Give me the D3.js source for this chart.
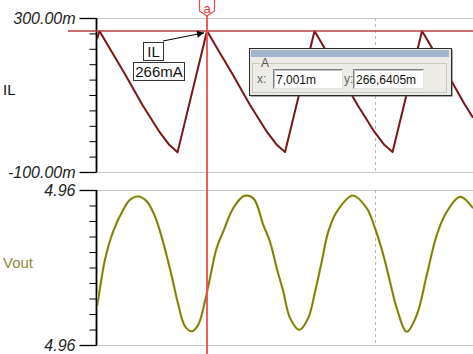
<!DOCTYPE html>
<html>
<head>
<meta charset="utf-8">
<script src="https://cdn.jsdelivr.net/npm/d3@7"></script>
<style>
  html, body { margin: 0; padding: 0; background: #fff; }
  svg { display: block; font-family: "Liberation Sans", Arial, sans-serif; }
</style>
</head>
<body>
<svg id="chart" width="473" height="354"></svg>
<script>
// ---------- data ----------
const timeDomain = [5.978, 9.475];          // ms
const ilDomain = [-100, 300];               // mA
const voutDomain = [4.956, 4.964];          // V

const ilTime  = [5.978, 6.001, 6.094, 6.243, 6.401, 6.559, 6.652, 6.727,
                 7.001, 7.094, 7.243, 7.401, 7.559, 7.652, 7.727,
                 8.001, 8.094, 8.243, 8.401, 8.559, 8.652, 8.727,
                 9.001, 9.094, 9.243, 9.401, 9.475];
const ilValue = [245, 266, 222, 152, 74, 4, -30, -49,
                 266, 222, 152, 74, 4, -30, -48,
                 266, 222, 152, 74, 4, -30, -48,
                 266, 222, 152, 74, 41];

const voutTime  = [5.978, 6.006, 6.052, 6.129, 6.222, 6.285, 6.362, 6.440, 6.517, 6.595,
                   6.673, 6.734, 6.796, 6.859, 6.920, 6.982, 7.029, 7.091, 7.153, 7.246,
                   7.345, 7.432, 7.525, 7.587, 7.649, 7.711, 7.773, 7.860, 7.943, 8.006,
                   8.068, 8.129, 8.208, 8.356, 8.487, 8.564, 8.641, 8.703, 8.766, 8.859,
                   8.952, 9.045, 9.138, 9.231, 9.355, 9.475];
const voutValue = [4.95800, 4.95894, 4.96040, 4.96187, 4.96298, 4.96350, 4.96367, 4.96342, 4.96264, 4.96127,
                   4.95955, 4.95808, 4.95697, 4.95671, 4.95705, 4.95826, 4.95946, 4.96101, 4.96187, 4.96307,
                   4.96369, 4.96357, 4.96219, 4.96133, 4.95998, 4.95875, 4.95740, 4.95678, 4.95740, 4.95875,
                   4.96030, 4.96185, 4.96288, 4.96371, 4.96306, 4.96202, 4.96065, 4.95927, 4.95790, 4.95669,
                   4.95755, 4.95961, 4.96168, 4.96288, 4.96365, 4.96306];

const ilTicks   = [-100, -60, -20, 20, 60, 100, 140, 180, 220, 260, 300];
const ilLabels  = [-100, 300];
const voutTicks = [4.956, 4.9568, 4.9576, 4.9584, 4.9592, 4.96, 4.9608, 4.9616, 4.9624, 4.9632, 4.964];
const voutLabels = [4.956, 4.964];
const xGrid = [8.564];

const cursorName = "a";
const cursorX = 7.001;       // ms
const cursorY = 266.6405;    // mA

// ---------- layout ----------
const svg = d3.select("#chart");
const L = 97, R = 473;
const topP = {y0: 18, y1: 172};
const botP = {y0: 190, y1: 345};

const x = d3.scaleLinear().domain(timeDomain).range([L, R]);
const yIL = d3.scaleLinear().domain(ilDomain).range([topP.y1, topP.y0]);
const yV = d3.scaleLinear().domain(voutDomain).range([botP.y1, botP.y0]);

const defs = svg.append("defs");
defs.append("clipPath").attr("id", "clipTop").append("rect")
  .attr("x", L).attr("y", topP.y0 - 2).attr("width", R - L).attr("height", topP.y1 - topP.y0 + 4);
defs.append("clipPath").attr("id", "clipBot").append("rect")
  .attr("x", L).attr("y", botP.y0 - 2).attr("width", R - L).attr("height", botP.y1 - botP.y0 + 4);

// gridlines
function hGrid(y) {
  svg.append("line").attr("x1", L).attr("x2", R).attr("y1", y).attr("y2", y)
    .attr("stroke", "#c8c8c8").attr("stroke-width", 1).attr("shape-rendering", "crispEdges");
}
[yIL(ilDomain[1]), yIL(ilDomain[0]), yV(voutDomain[1]), yV(voutDomain[0])].forEach(hGrid);

[[topP.y0, topP.y1], [botP.y0, botP.y1]].forEach(([a, b]) => {
  svg.selectAll(null).data(xGrid).enter().append("line")
    .attr("x1", d => Math.round(x(d)) + 0.5).attr("x2", d => Math.round(x(d)) + 0.5)
    .attr("y1", a).attr("y2", b)
    .attr("stroke", "#b8b8b8").attr("stroke-dasharray", "3,3");
});

// axes
function drawAxis(scale, ticks, labels, fmt) {
  const g = svg.append("g").attr("transform", `translate(${L - 0.5},0)`);
  g.call(d3.axisLeft(scale).tickValues(ticks).tickSize(7).tickFormat(""));
  g.select(".domain").remove();
  g.selectAll(".tick line").attr("stroke", "#000").attr("stroke-width", 1);
  const g2 = svg.append("g").attr("transform", `translate(${L - 0.5},0)`);
  g2.call(d3.axisLeft(scale).tickValues(labels).tickSize(17).tickPadding(4).tickFormat(fmt));
  g2.select(".domain").remove();
  g2.selectAll(".tick line").attr("stroke", "#000").attr("stroke-width", 1.3);
  g2.selectAll(".tick text").attr("font-size", 16).attr("font-style", "italic")
    .attr("fill", "#222").attr("font-family", "'Liberation Sans', Arial, sans-serif");
  svg.append("line").attr("x1", L - 0.5).attr("x2", L - 0.5)
    .attr("y1", scale.range()[1]).attr("y2", scale.range()[0])
    .attr("stroke", "#000").attr("stroke-width", 1.8);
}
drawAxis(yIL, ilTicks, ilLabels, v => v.toFixed(2) + "m");
drawAxis(yV, voutTicks, voutLabels, v => v.toFixed(2));

// series labels
svg.append("text").attr("x", 3).attr("y", 95).attr("font-size", 15).attr("fill", "#111").text("IL");
svg.append("text").attr("x", 3).attr("y", 268).attr("font-size", 15).attr("fill", "#8c8c3c").text("Vout");

// lines
const ilData = ilTime.map((t, i) => [t, ilValue[i]]);
const vData = voutTime.map((t, i) => [t, voutValue[i]]);

svg.append("path").datum(ilData).attr("clip-path", "url(#clipTop)")
  .attr("d", d3.line().x(d => x(d[0])).y(d => yIL(d[1])))
  .attr("fill", "none").attr("stroke", "#7a1616").attr("stroke-width", 2).attr("stroke-linejoin", "round");

const vLine = d3.line().x(d => x(d[0])).y(d => yV(d[1])).curve(d3.curveCatmullRom.alpha(0.5));
svg.append("path").datum(vData).attr("clip-path", "url(#clipBot)")
  .attr("d", vLine).attr("fill", "none").attr("stroke", "#f2f2a8").attr("stroke-width", 3);
svg.append("path").datum(vData).attr("clip-path", "url(#clipBot)")
  .attr("d", vLine).attr("fill", "none").attr("stroke", "#7c7c1c").attr("stroke-width", 1.9);

// cursor
const cx = Math.round(x(cursorX));
const cy = Math.round(yIL(cursorY));
svg.append("line").attr("x1", 68).attr("x2", R).attr("y1", cy).attr("y2", cy)
  .attr("stroke", "#bc3c3c").attr("stroke-width", 1.3);
svg.append("line").attr("x1", cx).attr("x2", cx).attr("y1", 14).attr("y2", 354)
  .attr("stroke", "#f04c4c").attr("stroke-width", 1.8);
svg.append("path")
  .attr("d", `M${cx - 7.5},-2 L${cx - 7.5},11 L${cx},16 L${cx + 7.5},11 L${cx + 7.5},-2 Z`)
  .attr("fill", "#fff").attr("stroke", "#e84848").attr("stroke-width", 1.2);
svg.append("text").attr("x", cx).attr("y", 12.5).attr("text-anchor", "middle")
  .attr("font-size", 13).attr("fill", "#e03030").text(cursorName);

// annotation
const ax = x(cursorX), ay = yIL(cursorY);
defs.append("marker").attr("id", "arrow").attr("viewBox", "0 0 10 10")
  .attr("refX", 10).attr("refY", 5).attr("markerWidth", 11).attr("markerHeight", 7)
  .attr("markerUnits", "userSpaceOnUse").attr("orient", "auto")
  .append("path").attr("d", "M0,0 L10,5 L0,10 Z").attr("fill", "#000");
svg.append("line").attr("x1", 163).attr("y1", 41).attr("x2", ax - 3).attr("y2", ay + 2)
  .attr("stroke", "#000").attr("stroke-width", 1).attr("marker-end", "url(#arrow)");
svg.append("rect").attr("x", 143.5).attr("y", 42.5).attr("width", 20).attr("height", 18)
  .attr("fill", "#fff").attr("stroke", "#333");
svg.append("text").attr("x", 153.5).attr("y", 57).attr("text-anchor", "middle")
  .attr("font-size", 15).attr("fill", "#111").text("IL");
svg.append("rect").attr("x", 133.5).attr("y", 62.5).attr("width", 51).attr("height", 18)
  .attr("fill", "#fff").attr("stroke", "#333");
svg.append("text").attr("x", 159).attr("y", 77).attr("text-anchor", "middle")
  .attr("font-size", 15).attr("fill", "#111").text(Math.floor(cursorY) + "mA");

// cursor readout dialog
const dg = svg.append("g");
dg.append("rect").attr("x", 250.5).attr("y", 49.5).attr("width", 202).attr("height", 47).attr("fill", "#555");
dg.append("rect").attr("x", 249.5).attr("y", 48.5).attr("width", 202).attr("height", 47)
  .attr("fill", "#ecebe6").attr("stroke", "#2a2a2a");
dg.append("rect").attr("x", 251).attr("y", 50).attr("width", 198).attr("height", 7).attr("fill", "#a2b6d0");
dg.append("rect").attr("x", 252.5).attr("y", 63.5).attr("width", 194).attr("height", 29)
  .attr("fill", "none").attr("stroke", "#c9c9c3");
dg.append("rect").attr("x", 260).attr("y", 58).attr("width", 8).attr("height", 10).attr("fill", "#ecebe6");
dg.append("text").attr("x", 261).attr("y", 67).attr("font-size", 12).attr("fill", "#555").text(cursorName.toUpperCase());
dg.append("text").attr("x", 257).attr("y", 83).attr("font-size", 12).attr("fill", "#666").text("x:");
dg.append("text").attr("x", 344).attr("y", 83).attr("font-size", 12).attr("fill", "#666").text("y:");
function inputBox(x0, w, txt) {
  dg.append("rect").attr("x", x0 + 0.5).attr("y", 69.5).attr("width", w).attr("height", 19)
    .attr("fill", "#fff").attr("stroke", "#e4e4e0");
  dg.append("path").attr("d", `M${x0 + 0.5},${88.5} L${x0 + 0.5},69.5 L${x0 + w + 0.5},69.5`)
    .attr("fill", "none").attr("stroke", "#7d7d7d");
  dg.append("path").attr("d", `M${x0 + 1.5},${87.5} L${x0 + 1.5},70.5 L${x0 + w - 0.5},70.5`)
    .attr("fill", "none").attr("stroke", "#c0c0c0");
  dg.append("text").attr("x", x0 + 3).attr("y", 84).attr("font-size", 12).attr("fill", "#111").text(txt);
}
inputBox(273, 69, cursorX.toFixed(3).replace(".", ",") + "m");
inputBox(353, 70, cursorY.toFixed(4).replace(".", ",") + "m");
</script>
</body>
</html>
